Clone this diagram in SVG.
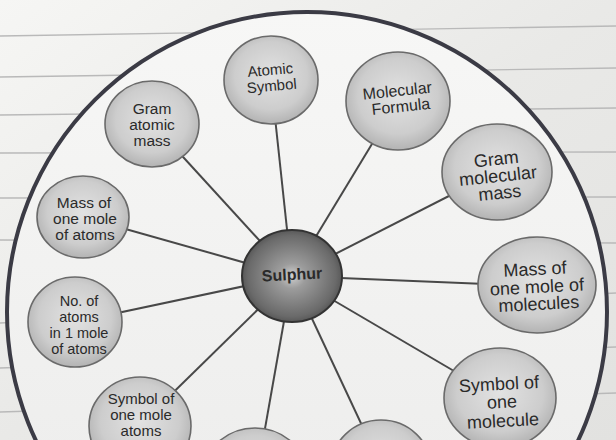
<svg xmlns="http://www.w3.org/2000/svg" width="616" height="440" viewBox="0 0 616 440">
<style>
.paper line{stroke:#b9b9b9;stroke-width:1.3}
.node ellipse{fill:url(#ng);stroke:#6a6a6a;stroke-width:1.6}
.conn line{stroke:#484848;stroke-width:2}
text{font-family:"Liberation Sans",Arial,sans-serif;fill:#2a2a2a;text-anchor:middle}
</style>
<defs>
<radialGradient id="ng" cx="50%" cy="45%" r="55%">
<stop offset="0" stop-color="#e2e2e2"/>
<stop offset="0.7" stop-color="#cdcdcd"/>
<stop offset="1" stop-color="#b3b3b3"/>
</radialGradient>
<radialGradient id="sg" cx="50%" cy="50%" r="55%">
<stop offset="0" stop-color="#d0d0d0"/>
<stop offset="0.25" stop-color="#9c9c9c"/>
<stop offset="0.8" stop-color="#6a6a6a"/>
<stop offset="1" stop-color="#4a4a4a"/>
</radialGradient>
<linearGradient id="pg" x1="0" y1="0" x2="1" y2="1">
<stop offset="0" stop-color="#f6f6f4"/>
<stop offset="0.5" stop-color="#e9e9e7"/>
<stop offset="1" stop-color="#e2e2e0"/>
</linearGradient>
<linearGradient id="ig" x1="0" y1="0" x2="0" y2="1">
<stop offset="0" stop-color="#f7f7f6"/>
<stop offset="1" stop-color="#ebebea"/>
</linearGradient>
</defs>
<rect width="616" height="440" fill="url(#pg)"/>
<g class="paper">
<line x1="0" y1="36" x2="616" y2="26"/>
<line x1="0" y1="77" x2="616" y2="68"/>
<line x1="0" y1="115" x2="616" y2="108"/>
<line x1="0" y1="153" x2="616" y2="152"/>
<line x1="0" y1="198" x2="616" y2="197"/>
<line x1="0" y1="240" x2="616" y2="243"/>
<line x1="0" y1="323" x2="616" y2="293"/>
<line x1="0" y1="368" x2="616" y2="347"/>
<line x1="0" y1="412" x2="616" y2="393"/>
</g>
<circle id="frame" cx="307" cy="312" r="300" fill="url(#ig)" stroke="#3b3b45" stroke-width="4"/>
<g class="conn">
<line x1="292" y1="276" x2="271" y2="80"/>
<line x1="292" y1="276" x2="398" y2="101"/>
<line x1="292" y1="276" x2="496" y2="172"/>
<line x1="292" y1="276" x2="537" y2="286"/>
<line x1="292" y1="276" x2="500" y2="398"/>
<line x1="292" y1="276" x2="381" y2="466"/>
<line x1="292" y1="276" x2="255" y2="485"/>
<line x1="292" y1="276" x2="140" y2="425"/>
<line x1="292" y1="276" x2="75" y2="322"/>
<line x1="292" y1="276" x2="83" y2="217"/>
<line x1="292" y1="276" x2="152" y2="123"/>
</g>
<g id="n-atomic-symbol" class="node">
<ellipse cx="271" cy="80" rx="47" ry="44"/>
<text font-size="15" transform="rotate(-5 271 78)"><tspan x="271" y="75">Atomic</tspan><tspan x="271" y="91">Symbol</tspan></text>
</g>
<g id="n-molecular-formula" class="node">
<ellipse cx="398" cy="101" rx="52" ry="49"/>
<text font-size="16" transform="rotate(-6 399 98)"><tspan x="398" y="96">Molecular</tspan><tspan x="400" y="112">Formula</tspan></text>
</g>
<g id="n-gram-molecular-mass" class="node">
<ellipse cx="497" cy="172" rx="55" ry="48"/>
<text font-size="18" transform="rotate(-6 498 176)"><tspan x="498" y="165">Gram</tspan><tspan x="498" y="182">molecular</tspan><tspan x="498" y="199">mass</tspan></text>
</g>
<g id="n-mass-mole-molecules" class="node">
<ellipse cx="537" cy="285" rx="59" ry="48"/>
<text font-size="18" transform="rotate(-3 537 288)"><tspan x="536" y="275">Mass of</tspan><tspan x="537" y="293">one mole of</tspan><tspan x="538" y="310">molecules</tspan></text>
</g>
<g id="n-symbol-molecule" class="node">
<ellipse cx="500" cy="398" rx="56" ry="50"/>
<text font-size="18" transform="rotate(-3 501 403)"><tspan x="500" y="390">Symbol of</tspan><tspan x="502" y="408">one</tspan><tspan x="502" y="427">molecule</tspan></text>
</g>
<g id="n-bottom-right" class="node">
<ellipse cx="381" cy="468" rx="50" ry="48"/>
</g>
<g id="n-bottom-left" class="node">
<ellipse cx="255" cy="485" rx="56" ry="57"/>
</g>
<g id="n-symbol-mole-atoms" class="node">
<ellipse cx="140" cy="426" rx="51" ry="49"/>
<text font-size="15"><tspan x="141" y="404">Symbol of</tspan><tspan x="141" y="420">one mole</tspan><tspan x="141" y="436">atoms</tspan></text>
</g>
<g id="n-no-atoms" class="node">
<ellipse cx="75" cy="322" rx="47" ry="45"/>
<text font-size="14.5"><tspan x="79" y="306">No. of</tspan><tspan x="79" y="322">atoms</tspan><tspan x="79" y="338">in 1 mole</tspan><tspan x="79" y="354">of atoms</tspan></text>
</g>
<g id="n-mass-mole-atoms" class="node">
<ellipse cx="83" cy="217" rx="46" ry="41"/>
<text font-size="15.5"><tspan x="84" y="208">Mass of</tspan><tspan x="85" y="224">one mole</tspan><tspan x="85" y="240">of atoms</tspan></text>
</g>
<g id="n-gram-atomic-mass" class="node">
<ellipse cx="152" cy="124" rx="47" ry="43"/>
<text font-size="15.5"><tspan x="152" y="114">Gram</tspan><tspan x="152" y="130">atomic</tspan><tspan x="152" y="146">mass</tspan></text>
</g>
<g id="n-sulphur">
<ellipse cx="292" cy="276" rx="50" ry="46" fill="url(#sg)" stroke="#333" stroke-width="2"/>
<text font-size="16" font-weight="bold" fill="#1e1e1e" transform="rotate(-3 292 275)"><tspan x="292" y="280">Sulphur</tspan></text>
</g>
</svg>
